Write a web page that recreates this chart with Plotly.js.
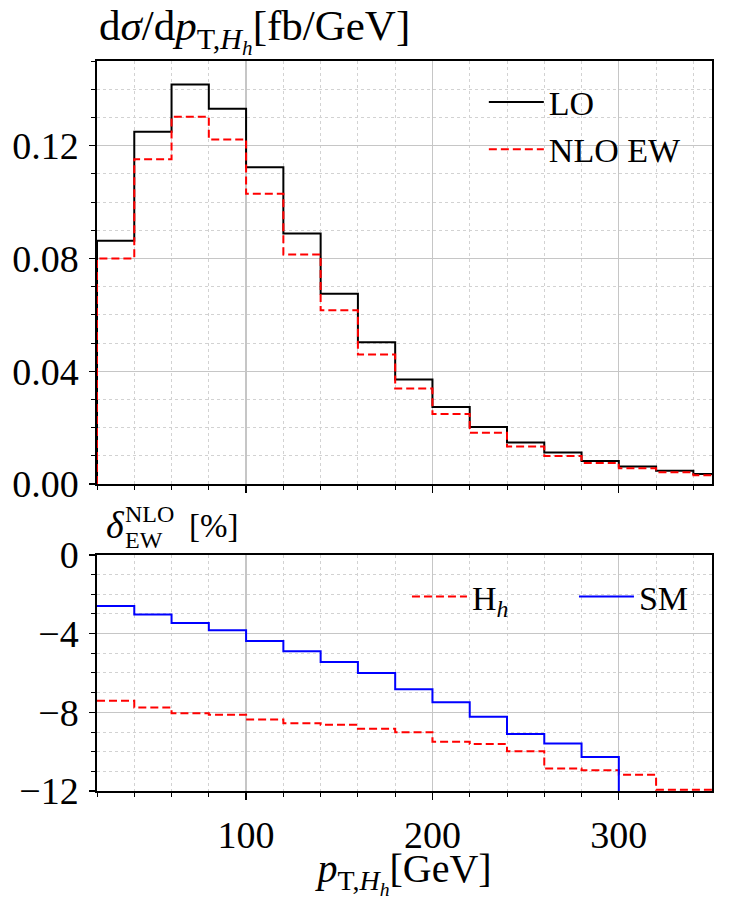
<!DOCTYPE html>
<html>
<head>
<meta charset="utf-8">
<script src="https://cdn.plot.ly/plotly-3.0.1.min.js"></script>
<style>html,body{margin:0;padding:0;background:#fff}</style>
</head>
<body>
<div id="chart" style="width:750px;height:900px"></div>
<script>
// Bin edges of the transverse-momentum histogram (GeV)
const binEdges = [20, 40, 60, 80, 100, 120, 140, 160, 180, 200, 220, 240, 260, 280, 300, 320, 340, 360];

// Differential cross sections per bin (fb/GeV)
const loXsec  = [0.0863, 0.1249, 0.1417, 0.1331, 0.1123, 0.0888, 0.0675, 0.0503, 0.0371,
                 0.0273, 0.0202, 0.0147, 0.0112, 0.0082, 0.0062, 0.0047, 0.0036];
const nloXsec = [0.0800, 0.1152, 0.1302, 0.1222, 0.1029, 0.0814, 0.0616, 0.0459, 0.0339,
                 0.0248, 0.0182, 0.0133, 0.0099, 0.0075, 0.0056, 0.0042, 0.0031];

// Relative NLO EW corrections per bin (%)
const deltaHh = [-7.41, -7.75, -8.05, -8.12, -8.37, -8.56, -8.63, -8.83, -9.01,
                 -9.49, -9.61, -9.98, -10.86, -10.95, -11.17, -11.94, -11.94];
const deltaSM = [-2.59, -3.02, -3.46, -3.83, -4.37, -4.90, -5.44, -6.00, -6.83,
                 -7.49, -8.22, -9.10, -9.58, -10.27, -100, -100, -100];

const histBaseline = 0;

// Step outline: each value is held across its bin (shape 'hv')
function stepX(edges, fromBaseline) {
  return fromBaseline ? [edges[0]].concat(edges) : edges.slice();
}
function stepY(vals, fromBaseline) {
  const y = vals.concat([vals[vals.length - 1]]);
  return fromBaseline ? [histBaseline].concat(y) : y;
}

const FONT = 'Liberation Serif, DejaVu Serif, serif';

const traces = [
  {x: stepX(binEdges, true), y: stepY(loXsec, true), xaxis: 'x2', yaxis: 'y2',
   type: 'scatter', mode: 'lines', line: {shape: 'hv', color: 'black', width: 2},
   name: 'LO', legend: 'legend', legendgroup: 'lo'},
  {x: stepX(binEdges, true), y: stepY(nloXsec, true), xaxis: 'x2', yaxis: 'y2',
   type: 'scatter', mode: 'lines', line: {shape: 'hv', color: '#ff0000', width: 2, dash: '8px,4px'},
   name: 'NLO EW', legend: 'legend', legendgroup: 'nlo'},
  {x: stepX(binEdges, false), y: stepY(deltaHh, false), xaxis: 'x', yaxis: 'y',
   type: 'scatter', mode: 'lines', line: {shape: 'hv', color: '#ff0000', width: 2, dash: '8px,4px'},
   name: 'H<sub><i>h</i></sub>', legend: 'legend2'},
  {x: stepX(binEdges, false), y: stepY(deltaSM, false), xaxis: 'x', yaxis: 'y',
   type: 'scatter', mode: 'lines', line: {shape: 'hv', color: '#0000ff', width: 2},
   name: 'SM', legend: 'legend2'}
];

const gridMajor = '#c6c6c6';
const gridMinor = '#d2d2d2';

function xAxis(extra) {
  return Object.assign({
    range: [20, 350], tick0: 0, dtick: 100,
    ticks: 'outside', ticklen: 7, tickwidth: 1.3, tickcolor: 'black',
    showline: true, mirror: true, linecolor: 'black', linewidth: 1.6,
    showgrid: true, gridcolor: gridMajor, gridwidth: 1.2, zeroline: false,
    tickfont: {family: FONT, size: 38, color: 'black'},
    ticklabelstandoff: 3,
    minor: {tick0: 0, dtick: 20, ticks: 'outside', ticklen: 4, tickwidth: 1, tickcolor: 'black',
            showgrid: true, gridcolor: gridMinor, gridwidth: 1, griddash: 'dot'}
  }, extra);
}
function yAxis(extra, minorStep) {
  return Object.assign({
    ticks: 'outside', ticklen: 6, tickwidth: 1.3, tickcolor: 'black',
    showline: true, mirror: true, linecolor: 'black', linewidth: 1.6,
    showgrid: true, gridcolor: gridMajor, gridwidth: 1.2, zeroline: false,
    tickfont: {family: FONT, size: 38, color: 'black'},
    ticklabelstandoff: 3,
    minor: {tick0: 0, dtick: minorStep, ticks: 'outside', ticklen: 4, tickwidth: 1, tickcolor: 'black',
            showgrid: true, gridcolor: gridMinor, gridwidth: 1, griddash: 'dot'}
  }, extra);
}

const layout = {
  width: 750, height: 900,
  margin: {l: 97, r: 38, t: 61, b: 109, pad: 0, autoexpand: false},
  paper_bgcolor: 'white', plot_bgcolor: 'white',
  font: {family: FONT, color: 'black', size: 33},
  showlegend: true,
  xaxis: xAxis({anchor: 'y',
    title: {text: '<i>p</i><sub>T,<i>H<sub>h</sub></i></sub>[GeV]', font: {family: FONT, size: 40}, standoff: 0}}),
  xaxis2: xAxis({anchor: 'y2', matches: 'x', showticklabels: false}),
  yaxis: yAxis({domain: [0, 0.3233], range: [-12, 0], tick0: 0, dtick: 4}, 1),
  yaxis2: yAxis({domain: [0.4205, 1], range: [0, 0.15], tick0: 0, dtick: 0.04, tickformat: '.2f'}, 0.01),
  legend: {x: 0.629, xanchor: 'left', y: 0.983, yanchor: 'top', bgcolor: 'rgba(0,0,0,0)',
           font: {family: FONT, size: 34}, tracegroupgap: 7, traceorder: 'normal', itemwidth: 55},
  legend2: {orientation: 'h', x: 0.504, xanchor: 'left', y: 0.266, yanchor: 'middle',
            bgcolor: 'rgba(0,0,0,0)', font: {family: FONT, size: 34}, itemwidth: 55,
            entrywidth: 97, entrywidthmode: 'pixels'},
  annotations: [
    {xref: 'paper', yref: 'paper', x: 0, xanchor: 'left', y: 1.041, yanchor: 'middle',
     text: 'd<i>σ</i>/d<i>p</i><sub>T,<i>H<sub>h</sub></i></sub>[fb/GeV]', showarrow: false,
     font: {family: FONT, size: 43}},
    {xref: 'paper', yref: 'paper', x: 0.012, xanchor: 'left', y: 0.364, yanchor: 'middle',
     text: '<i>δ</i>', showarrow: false, font: {family: FONT, size: 38}},
    {xref: 'paper', yref: 'paper', x: 0.042, xanchor: 'left', y: 0.380, yanchor: 'middle',
     text: 'NLO', showarrow: false, font: {family: FONT, size: 24}},
    {xref: 'paper', yref: 'paper', x: 0.042, xanchor: 'left', y: 0.3445, yanchor: 'middle',
     text: 'EW', showarrow: false, font: {family: FONT, size: 24}},
    {xref: 'paper', yref: 'paper', x: 0.146, xanchor: 'left', y: 0.363, yanchor: 'middle',
     text: '[%]', showarrow: false, font: {family: FONT, size: 33}}
  ]
};

Plotly.newPlot('chart', traces, layout, {staticPlot: true, displayModeBar: false});
</script>
</body>
</html>
